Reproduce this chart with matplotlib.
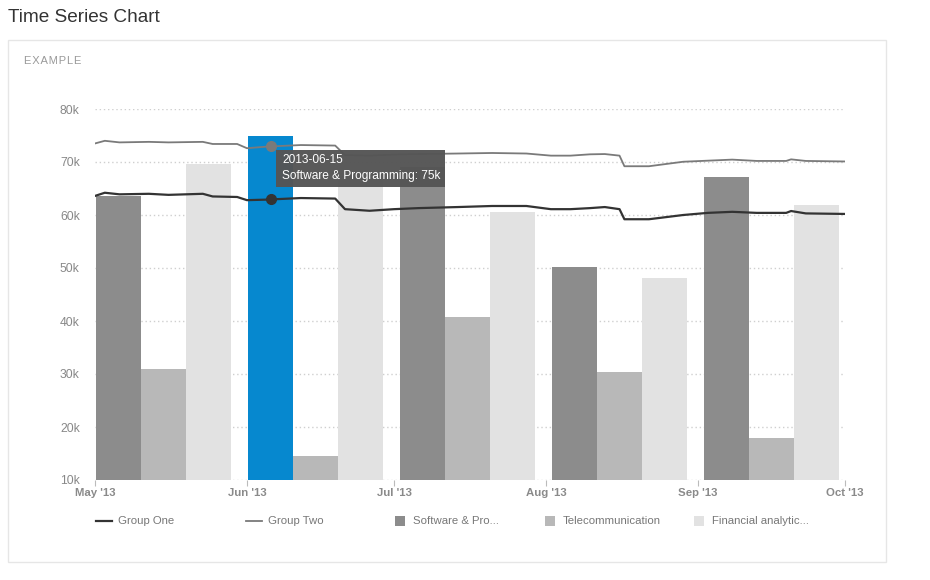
import numpy as np
import pandas as pd
import matplotlib
matplotlib.use("Agg")
import matplotlib.pyplot as plt
import matplotlib.dates as mdates
from matplotlib.patches import Rectangle
from matplotlib.lines import Line2D
from matplotlib.ticker import FuncFormatter

plt.rcParams["font.family"] = ["Liberation Sans", "DejaVu Sans"]

# --- data ---
bar_dates = ["2013-05-15", "2013-06-15", "2013-07-16", "2013-08-16", "2013-09-16"]
software = [63.5, 75.0, 69.0, 50.2, 67.2]      # k
telecom = [30.9, 14.5, 40.8, 30.4, 17.9]
financial = [69.7, 68.0, 60.6, 48.1, 61.9]
highlight_idx = 1   # hovered bar (Software & Programming, 2013-06-15)

line_dates = ["2013-05-01", "2013-05-03", "2013-05-06", "2013-05-12", "2013-05-16",
              "2013-05-23", "2013-05-25", "2013-05-30", "2013-06-01", "2013-06-05",
              "2013-06-12", "2013-06-19", "2013-06-21", "2013-06-26", "2013-07-01",
              "2013-07-06", "2013-07-14", "2013-07-21", "2013-07-28", "2013-08-02",
              "2013-08-06", "2013-08-10", "2013-08-13", "2013-08-16", "2013-08-17",
              "2013-08-22", "2013-08-29", "2013-09-03", "2013-09-08", "2013-09-13",
              "2013-09-19", "2013-09-20", "2013-09-23", "2013-10-01"]
group_one = [63.6, 64.2, 63.9, 64.0, 63.8, 64.0, 63.5, 63.4, 62.8, 62.9,
             63.2, 63.1, 61.1, 60.8, 61.1, 61.3, 61.5, 61.7, 61.7, 61.1,
             61.1, 61.3, 61.5, 61.1, 59.2, 59.2, 60.0, 60.4, 60.6, 60.4,
             60.4, 60.75, 60.3, 60.2]
group_two = [73.5, 74.0, 73.7, 73.8, 73.7, 73.8, 73.4, 73.4, 72.6, 72.9,
             73.2, 73.1, 71.3, 71.2, 71.4, 71.5, 71.6, 71.7, 71.6, 71.2,
             71.2, 71.45, 71.5, 71.2, 69.2, 69.2, 70.05, 70.25, 70.45, 70.2,
             70.2, 70.5, 70.2, 70.1]

hover_date = "2013-06-06"
hover_vals = [63.0, 73.0]   # group one, group two at the hover position

month_ticks = ["2013-05-01", "2013-06-01", "2013-07-01", "2013-08-01", "2013-09-01", "2013-10-01"]
month_labels = ["May '13", "Jun '13", "Jul '13", "Aug '13", "Sep '13", "Oct '13"]

tooltip_lines = ["2013-06-15", "Software & Programming: 75k"]
legend_names = ["Group One", "Group Two", "Software & Pro...", "Telecommunication", "Financial analytic..."]

# --- colors ---
c_soft, c_tel, c_fin, c_hi = "#8c8c8c", "#b8b8b8", "#e2e2e2", "#0688cf"
c_one, c_two = "#333333", "#7a7a7a"

W, H = 930, 580
fig = plt.figure(figsize=(W / 100, H / 100), dpi=100)
fig.patch.set_facecolor("white")

# panel frame + headings
fig.add_artist(Rectangle((8 / W, 1 - 562 / H), 878 / W, 522 / H, transform=fig.transFigure,
                         facecolor="white", edgecolor="#e6e6e6", lw=1, zorder=-1))
fig.text(8 / W, 1 - 17 / H, "Time Series Chart", fontsize=13.7, color="#333333", va="center")
fig.text(24 / W, 1 - 61 / H, "E X A M P L E".replace(" ", "\u200a"), fontsize=8, color="#9a9a9a",
         va="center")

ax = fig.add_axes([95 / W, 1 - 480 / H, 750 / W, 371 / H])
ax.set_facecolor("none")

bx = mdates.date2num(pd.to_datetime(bar_dates))
bw = 9.2
soft_colors = [c_hi if i == highlight_idx else c_soft for i in range(len(software))]
ax.bar(bx - bw, np.array(software) * 1000, width=bw, color=soft_colors, zorder=2)
ax.bar(bx, np.array(telecom) * 1000, width=bw, color=c_tel, zorder=2)
ax.bar(bx + bw, np.array(financial) * 1000, width=bw, color=c_fin, zorder=2)

lx = mdates.date2num(pd.to_datetime(line_dates))
ax.plot(lx, np.array(group_one) * 1000, color=c_one, lw=1.6, zorder=3)
ax.plot(lx, np.array(group_two) * 1000, color=c_two, lw=1.3, zorder=3)

hx = mdates.date2num(pd.to_datetime(hover_date))
ax.plot([hx], [hover_vals[0] * 1000], "o", color=c_one, ms=7, zorder=4)
ax.plot([hx], [hover_vals[1] * 1000], "o", color=c_two, ms=7, zorder=4)

ax.set_xlim(mdates.date2num(pd.Timestamp("2013-05-01")), mdates.date2num(pd.Timestamp("2013-10-01")))
ax.set_ylim(10000, 80000)
ax.set_yticks(np.arange(10000, 80001, 10000))
ax.yaxis.set_major_formatter(FuncFormatter(lambda v, p: f"{int(v / 1000)}k"))
ax.set_xticks(mdates.date2num(pd.to_datetime(month_ticks)))
ax.set_xticklabels(month_labels)

ax.grid(axis="y", color="#cfcfcf", lw=1, linestyle=(0, (1, 2)), zorder=0)
for s in ax.spines.values():
    s.set_visible(False)
ax.tick_params(axis="y", length=0, pad=11, labelsize=8.7, labelcolor="#888888")
ax.tick_params(axis="x", length=4, width=0.8, color="#bbbbbb", pad=2, labelsize=8.2,
               labelcolor="#8a8a8a")
for t in ax.get_xticklabels():
    t.set_fontweight("bold")

# tooltip
fig.add_artist(Rectangle((276 / W, 1 - 187 / H), 169 / W, 37 / H, transform=fig.transFigure,
                         facecolor="#555555", edgecolor="none", alpha=0.97, zorder=10))
fig.text(282 / W, 1 - 160 / H, tooltip_lines[0], fontsize=8.6, color="white", va="center", zorder=11)
fig.text(282 / W, 1 - 176 / H, tooltip_lines[1], fontsize=8.6, color="white", va="center", zorder=11)

# legend row, one slot every 149 px lined up with the month ticks
handle_colors = [c_one, c_two, c_soft, c_tel, c_fin]
ly = 1 - 520.5 / H
for i, (name, col) in enumerate(zip(legend_names, handle_colors)):
    x0 = 96 + 149.5 * i
    if i < 2:
        fig.add_artist(Line2D([x0 / W, (x0 + 16) / W], [ly, ly], transform=fig.transFigure,
                              color=col, lw=1.6 if i == 0 else 1.3))
        fig.text((x0 + 22) / W, ly, name, fontsize=8.2, color="#777777", va="center")
    else:
        fig.add_artist(Rectangle((x0 / W, ly - 5 / H), 10 / W, 10 / H,
                                 transform=fig.transFigure, facecolor=col, edgecolor="none"))
        fig.text((x0 + 18) / W, ly, name, fontsize=8.2, color="#777777", va="center")

fig.savefig("out.png", dpi=100)
